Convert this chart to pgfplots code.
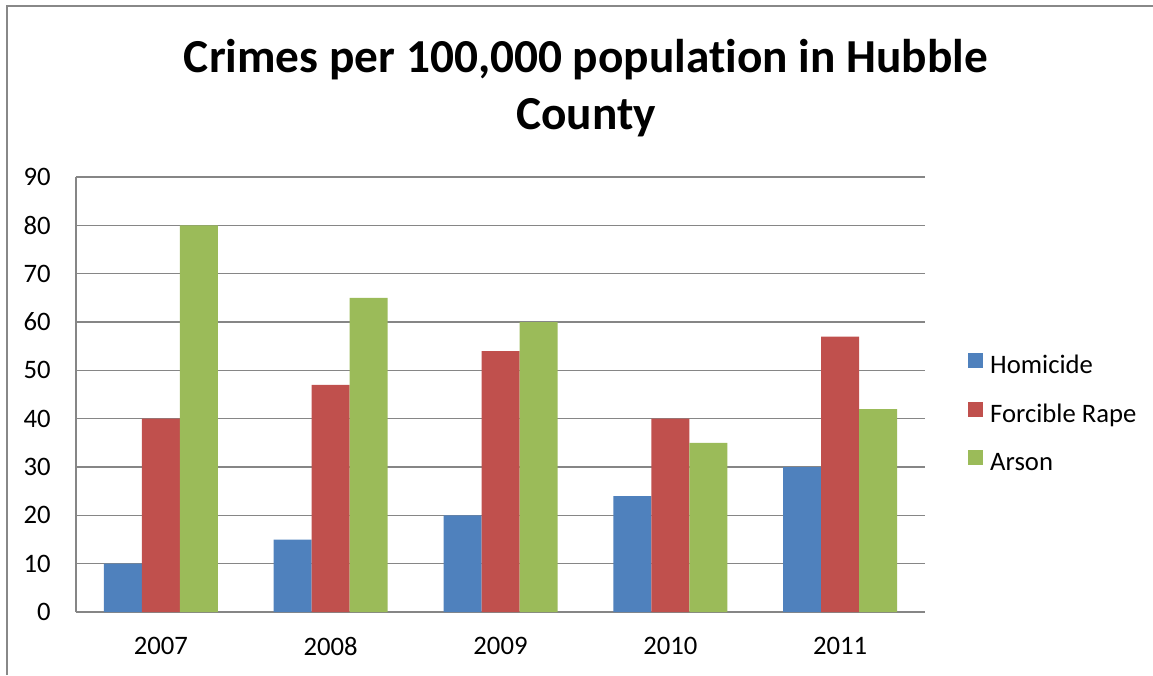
\documentclass[border=0pt]{standalone}
\usepackage{fontspec}
\setmainfont{Carlito}[Ligatures={NoCommon,NoRequired,NoContextual}]
\usepackage{pgfplots}
\pgfplotsset{compat=1.18}
\definecolor{cblue}{HTML}{4F81BD}
\definecolor{cred}{HTML}{C0504D}
\definecolor{cgreen}{HTML}{9BBB59}
\definecolor{gridgray}{HTML}{868686}
\definecolor{framegray}{HTML}{888888}
\pgfplotsset{sqlegend/.style={legend image code/.code={\fill[##1,draw=none] (0pt,0pt) rectangle (11.25pt,11.25pt);}}}
\begin{document}
\begin{tikzpicture}[x=0.75pt,y=0.75pt]
\useasboundingbox (0,0) rectangle (1153,675);
\draw[framegray, line width=1.1pt] (7,0) -- (7,669) -- (1153,669);
\node[anchor=base, font=\fontsize{35.5}{42}\selectfont\bfseries] at (586,602) {Crimes per 100,000 population in Hubble};
\node[anchor=base, font=\fontsize{35.5}{42}\selectfont\bfseries] at (586,545) {County};
\begin{axis}[
  at={(57pt,47.25pt)}, anchor=south west, scale only axis,
  width=636.75pt, height=326.25pt,
  ymin=0, ymax=90, ytick={0,10,...,90},
  xmin=-0.5, xmax=4.5, xtick={0,1,2,3,4},
  xticklabels={2007,2008,2009,2010,2011},
  ybar=0pt, bar width=28.5pt,
  axis x line*=bottom, axis y line*=left,
  axis line style={-, draw=gridgray, line width=1pt},
  ymajorgrids, grid style={draw=gridgray, line width=1pt},
  major tick length=0pt,
  /pgf/number format/assume math mode=true,
  tick label style={font=\fontsize{20}{24}\selectfont, text=black},
  yticklabel style={inner sep=0pt, anchor=east, xshift=-18.75pt},
  xticklabel style={inner sep=0pt, anchor=north, yshift=-18.75pt},
  legend style={at={(1.0506,0.595)}, anchor=north west, draw=none, fill=none,
    font=\fontsize{20}{24}\selectfont, inner sep=0pt,
    nodes={inner sep=0pt, text height=12pt, text depth=4pt},
    row sep=17pt, column sep=5.25pt},
  legend cell align=left,
]
\addplot[fill=cblue, draw=none, sqlegend] coordinates {(0,10) (1,15) (2,20) (3,24) (4,30)};
\addplot[fill=cred, draw=none, sqlegend] coordinates {(0,40) (1,47) (2,54) (3,40) (4,57)};
\addplot[fill=cgreen, draw=none, sqlegend] coordinates {(0,80) (1,65) (2,60) (3,35) (4,42)};
\legend{Homicide, Forcible Rape, Arson}
\end{axis}
\end{tikzpicture}
\end{document}
